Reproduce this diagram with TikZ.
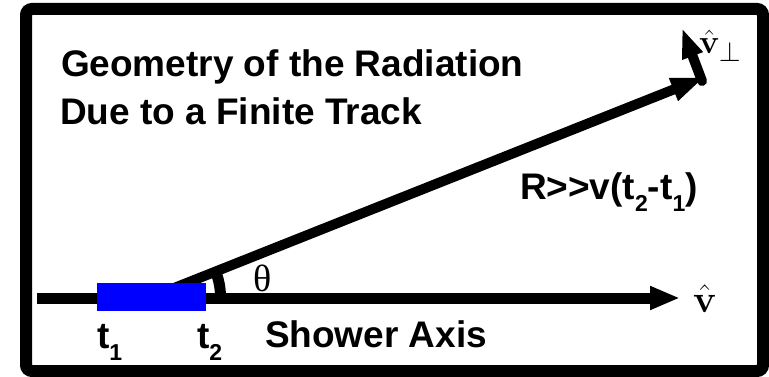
\documentclass[tikz,border=0pt]{standalone}
\usepackage{graphicx}
\usepackage[no-math]{fontspec}
\setmainfont{Liberation Sans}
\newfontfamily\grk{Liberation Serif}
\usetikzlibrary{arrows.meta}
\newcommand{\sbsc}[1]{\raisebox{-12pt}{\fontsize{23}{23}\selectfont #1}}
\begin{document}
\begin{tikzpicture}[x=1pt,y=-1pt,
  lbl/.style={inner sep=0pt, outer sep=0pt, anchor=base west, font=\fontsize{37}{44}\selectfont\bfseries},
  mathlbl/.style={inner sep=0pt, outer sep=0pt, anchor=base west, font=\Huge},
  frame/.style={line width=12pt, rounded corners=6pt},
  heavy/.style={line width=11pt},
  rayline/.style={line width=10pt}]
\useasboundingbox (0,0) rectangle (769,377);
\draw[frame] (26,9) rectangle (763,371);
\coordinate (axL) at (37,298);
\coordinate (axR) at (680,298);
\coordinate (org) at (151.5,297);
\coordinate (tipR) at (705,77);
\coordinate (crn) at (702,81);
\coordinate (tipP) at (682,28);
% axis
\draw[heavy, -{Triangle[length=30pt,width=22pt]}] (axL) -- (axR);
% ray
\draw[rayline, -{Triangle[length=34pt,width=22pt]}] (org) -- (tipR);
% perpendicular
\draw[rayline, line cap=round, -{Triangle[length=30pt,width=20pt]}] (crn) -- (tipP);
% angle arc
\draw[heavy] (org) ++(69,0) arc[start angle=0, end angle=21.7, radius=69pt];
% track
\node (track) [fill=blue, inner sep=0pt, minimum width=109pt, minimum height=28pt] at (org) {};
% texts
\node[lbl] (title1) at (61,77) {Geometry of the Radiation};
\node[lbl] (title2) at (60,125) {Due to a Finite Track};
\node[lbl] (rlabel) at (520,200) {R>\kern0pt>v(t\sbsc{2}-t\sbsc{1})};
\node[lbl] (axislbl) at (265,347) {Shower Axis};
\node[lbl] (t1) at (97,348) {t\sbsc{1}};
\node[lbl] (t2) at (197,348) {t\sbsc{2}};
\node[inner sep=0pt, font=\grk\fontsize{38}{38}\selectfont] (theta) at (263,278) {θ};
\node[mathlbl] (vhat) at (693,312) {\scalebox{1.55}{$\hat{\mathbf{v}}$}};
\node[mathlbl] (vperp) at (699,54) {\scalebox{1.35}{$\hat{\mathbf{v}}_\perp$}};
\end{tikzpicture}
\end{document}
